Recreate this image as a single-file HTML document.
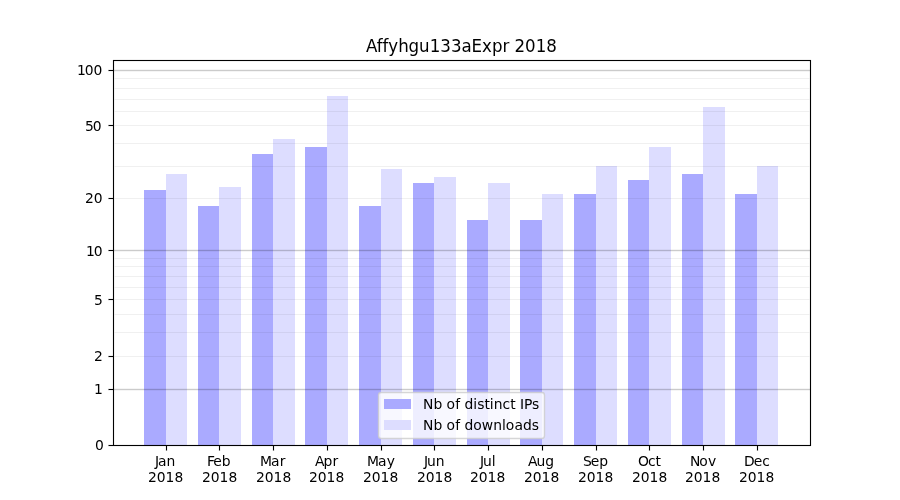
<!DOCTYPE html>
<html lang="en"><head><meta charset="utf-8"><title>Affyhgu133aExpr 2018</title>
<style>html,body{margin:0;padding:0;background:#fff}body{width:900px;height:500px;overflow:hidden}svg{display:block}text{font-family:"DejaVu Sans","Liberation Sans",sans-serif;fill:#000;white-space:pre}.t{font-size:13.8889px}.ti{font-size:16.6667px}</style></head><body>
<svg width="900" height="500" viewBox="0 0 900 500">
<rect width="900" height="500" fill="#fff"/>
<g shape-rendering="crispEdges">
<rect x="144" y="190" width="22" height="256" fill="#aaaaff"/>
<rect x="166" y="174" width="21" height="272" fill="#ddddff"/>
<rect x="198" y="206" width="21" height="240" fill="#aaaaff"/>
<rect x="219" y="187" width="22" height="259" fill="#ddddff"/>
<rect x="252" y="154" width="21" height="292" fill="#aaaaff"/>
<rect x="273" y="139" width="22" height="307" fill="#ddddff"/>
<rect x="305" y="147" width="22" height="299" fill="#aaaaff"/>
<rect x="327" y="96" width="21" height="350" fill="#ddddff"/>
<rect x="359" y="206" width="22" height="240" fill="#aaaaff"/>
<rect x="381" y="169" width="21" height="277" fill="#ddddff"/>
<rect x="413" y="183" width="21" height="263" fill="#aaaaff"/>
<rect x="434" y="177" width="22" height="269" fill="#ddddff"/>
<rect x="467" y="220" width="21" height="226" fill="#aaaaff"/>
<rect x="488" y="183" width="22" height="263" fill="#ddddff"/>
<rect x="520" y="220" width="22" height="226" fill="#aaaaff"/>
<rect x="542" y="194" width="21" height="252" fill="#ddddff"/>
<rect x="574" y="194" width="22" height="252" fill="#aaaaff"/>
<rect x="596" y="166" width="21" height="280" fill="#ddddff"/>
<rect x="628" y="180" width="21" height="266" fill="#aaaaff"/>
<rect x="649" y="147" width="22" height="299" fill="#ddddff"/>
<rect x="682" y="174" width="21" height="272" fill="#aaaaff"/>
<rect x="703" y="107" width="22" height="339" fill="#ddddff"/>
<rect x="735" y="194" width="22" height="252" fill="#aaaaff"/>
<rect x="757" y="166" width="21" height="280" fill="#ddddff"/>
<g fill="#000">
<rect x="114" y="388" width="696" height="3" fill-opacity="0.039"/><rect x="114" y="389" width="696" height="1" fill-opacity="0.168"/>
<rect x="114" y="249" width="696" height="3" fill-opacity="0.039"/><rect x="114" y="250" width="696" height="1" fill-opacity="0.168"/>
<rect x="114" y="69" width="696" height="3" fill-opacity="0.039"/><rect x="114" y="70" width="696" height="1" fill-opacity="0.168"/>
<rect x="115" y="356" width="694" height="1" fill-opacity="0.036"/><rect x="114" y="356" width="696" height="1" fill-opacity="0.024"/>
<rect x="115" y="332" width="694" height="1" fill-opacity="0.036"/><rect x="114" y="332" width="696" height="1" fill-opacity="0.024"/>
<rect x="115" y="314" width="694" height="1" fill-opacity="0.036"/><rect x="114" y="314" width="696" height="1" fill-opacity="0.024"/>
<rect x="115" y="299" width="694" height="1" fill-opacity="0.036"/><rect x="114" y="299" width="696" height="1" fill-opacity="0.024"/>
<rect x="115" y="287" width="694" height="1" fill-opacity="0.036"/><rect x="114" y="287" width="696" height="1" fill-opacity="0.024"/>
<rect x="115" y="276" width="694" height="1" fill-opacity="0.036"/><rect x="114" y="276" width="696" height="1" fill-opacity="0.024"/>
<rect x="115" y="266" width="694" height="1" fill-opacity="0.036"/><rect x="114" y="266" width="696" height="1" fill-opacity="0.024"/>
<rect x="115" y="258" width="694" height="1" fill-opacity="0.036"/><rect x="114" y="258" width="696" height="1" fill-opacity="0.024"/>
<rect x="115" y="198" width="694" height="1" fill-opacity="0.036"/><rect x="114" y="198" width="696" height="1" fill-opacity="0.024"/>
<rect x="115" y="166" width="694" height="1" fill-opacity="0.036"/><rect x="114" y="166" width="696" height="1" fill-opacity="0.024"/>
<rect x="115" y="143" width="694" height="1" fill-opacity="0.036"/><rect x="114" y="143" width="696" height="1" fill-opacity="0.024"/>
<rect x="115" y="125" width="694" height="1" fill-opacity="0.036"/><rect x="114" y="125" width="696" height="1" fill-opacity="0.024"/>
<rect x="115" y="111" width="694" height="1" fill-opacity="0.036"/><rect x="114" y="111" width="696" height="1" fill-opacity="0.024"/>
<rect x="115" y="99" width="694" height="1" fill-opacity="0.036"/><rect x="114" y="99" width="696" height="1" fill-opacity="0.024"/>
<rect x="115" y="88" width="694" height="1" fill-opacity="0.036"/><rect x="114" y="88" width="696" height="1" fill-opacity="0.024"/>
<rect x="115" y="78" width="694" height="1" fill-opacity="0.036"/><rect x="114" y="78" width="696" height="1" fill-opacity="0.024"/>
<rect x="108" y="444" width="5" height="3" fill-opacity="0.055"/><rect x="109" y="445" width="4" height="1"/><rect x="108" y="445" width="1" height="1" fill-opacity="0.47"/>
<rect x="108" y="388" width="5" height="3" fill-opacity="0.055"/><rect x="109" y="389" width="4" height="1"/><rect x="108" y="389" width="1" height="1" fill-opacity="0.47"/>
<rect x="108" y="355" width="5" height="3" fill-opacity="0.055"/><rect x="109" y="356" width="4" height="1"/><rect x="108" y="356" width="1" height="1" fill-opacity="0.47"/>
<rect x="108" y="298" width="5" height="3" fill-opacity="0.055"/><rect x="109" y="299" width="4" height="1"/><rect x="108" y="299" width="1" height="1" fill-opacity="0.47"/>
<rect x="108" y="249" width="5" height="3" fill-opacity="0.055"/><rect x="109" y="250" width="4" height="1"/><rect x="108" y="250" width="1" height="1" fill-opacity="0.47"/>
<rect x="108" y="197" width="5" height="3" fill-opacity="0.055"/><rect x="109" y="198" width="4" height="1"/><rect x="108" y="198" width="1" height="1" fill-opacity="0.47"/>
<rect x="108" y="124" width="5" height="3" fill-opacity="0.055"/><rect x="109" y="125" width="4" height="1"/><rect x="108" y="125" width="1" height="1" fill-opacity="0.47"/>
<rect x="108" y="69" width="5" height="3" fill-opacity="0.055"/><rect x="109" y="70" width="4" height="1"/><rect x="108" y="70" width="1" height="1" fill-opacity="0.47"/>
<rect x="165" y="446" width="3" height="5" fill-opacity="0.055"/><rect x="166" y="446" width="1" height="4"/><rect x="166" y="450" width="1" height="1" fill-opacity="0.47"/>
<rect x="218" y="446" width="3" height="5" fill-opacity="0.055"/><rect x="219" y="446" width="1" height="4"/><rect x="219" y="450" width="1" height="1" fill-opacity="0.47"/>
<rect x="272" y="446" width="3" height="5" fill-opacity="0.055"/><rect x="273" y="446" width="1" height="4"/><rect x="273" y="450" width="1" height="1" fill-opacity="0.47"/>
<rect x="326" y="446" width="3" height="5" fill-opacity="0.055"/><rect x="327" y="446" width="1" height="4"/><rect x="327" y="450" width="1" height="1" fill-opacity="0.47"/>
<rect x="380" y="446" width="3" height="5" fill-opacity="0.055"/><rect x="381" y="446" width="1" height="4"/><rect x="381" y="450" width="1" height="1" fill-opacity="0.47"/>
<rect x="433" y="446" width="3" height="5" fill-opacity="0.055"/><rect x="434" y="446" width="1" height="4"/><rect x="434" y="450" width="1" height="1" fill-opacity="0.47"/>
<rect x="487" y="446" width="3" height="5" fill-opacity="0.055"/><rect x="488" y="446" width="1" height="4"/><rect x="488" y="450" width="1" height="1" fill-opacity="0.47"/>
<rect x="541" y="446" width="3" height="5" fill-opacity="0.055"/><rect x="542" y="446" width="1" height="4"/><rect x="542" y="450" width="1" height="1" fill-opacity="0.47"/>
<rect x="595" y="446" width="3" height="5" fill-opacity="0.055"/><rect x="596" y="446" width="1" height="4"/><rect x="596" y="450" width="1" height="1" fill-opacity="0.47"/>
<rect x="648" y="446" width="3" height="5" fill-opacity="0.055"/><rect x="649" y="446" width="1" height="4"/><rect x="649" y="450" width="1" height="1" fill-opacity="0.47"/>
<rect x="702" y="446" width="3" height="5" fill-opacity="0.055"/><rect x="703" y="446" width="1" height="4"/><rect x="703" y="450" width="1" height="1" fill-opacity="0.47"/>
<rect x="756" y="446" width="3" height="5" fill-opacity="0.055"/><rect x="757" y="446" width="1" height="4"/><rect x="757" y="450" width="1" height="1" fill-opacity="0.47"/>
<rect x="112" y="60" width="3" height="386" fill-opacity="0.055"/><rect x="809" y="60" width="3" height="386" fill-opacity="0.055"/><rect x="113" y="59" width="698" height="3" fill-opacity="0.055"/><rect x="113" y="444" width="698" height="3" fill-opacity="0.055"/><rect x="113" y="60" width="1" height="386"/><rect x="810" y="60" width="1" height="386"/><rect x="113" y="60" width="698" height="1"/><rect x="113" y="445" width="698" height="1"/>
</g></g>
<rect x="378.5" y="392.5" width="166" height="46" rx="2.78" ry="2.78" fill="#fff" fill-opacity="0.8" stroke="#ccc" stroke-opacity="0.8" stroke-width="1.389"/>
<g shape-rendering="crispEdges"><rect x="384" y="399" width="27" height="10" fill="#aaaaff"/><rect x="384" y="420" width="27" height="10" fill="#ddddff"/></g>
<g class="t">
<text x="94.972" y="450">0</text>
<text x="93.972" y="394">1</text>
<text x="93.972" y="361">2</text>
<text x="93.972" y="305">5</text>
<text x="85.894 93.831" y="256">10</text>
<text x="85.019 93.831" y="203">20</text>
<text x="85.019 92.831" y="131">50</text>
<text x="76.941 84.753 93.581" y="75">100</text>
<text x="155.005 158.083 166.598" y="466">Jan</text>
<text x="148.044 156.856 165.559 174.512" y="482">2018</text>
<text x="207.026 213.37 221.776" y="466">Feb</text>
<text x="201.909 210.721 219.424 228.378" y="482">2018</text>
<text x="260.076 271.045 279.795" y="466">Mar</text>
<text x="255.889 264.701 273.404 282.483" y="482">2018</text>
<text x="314.902 323.512 332.574" y="466">Apr</text>
<text x="309.004 317.816 326.519 335.598" y="482">2018</text>
<text x="366.931 378.025 386.775" y="466">May</text>
<text x="362.994 371.806 380.509 389.462" y="482">2018</text>
<text x="423.911 427.114 435.786" y="466">Jun</text>
<text x="416.974 425.661 434.489 443.443" y="482">2018</text>
<text x="479.995 483.073 491.87" y="466">Jul</text>
<text x="470.089 478.776 487.604 496.557" y="482">2018</text>
<text x="528.053 536.537 545.334" y="466">Aug</text>
<text x="524.069 532.756 541.584 550.537" y="482">2018</text>
<text x="582.887 590.809 599.356" y="466">Sep</text>
<text x="577.934 586.746 595.574 604.403" y="482">2018</text>
<text x="637.955 648.111 655.502" y="466">Oct</text>
<text x="631.924 640.736 649.439 658.393" y="482">2018</text>
<text x="689.888 699.263 708.122" y="466">Nov</text>
<text x="685.029 693.841 702.544 711.622" y="482">2018</text>
<text x="743.995 753.792 762.339" y="466">Dec</text>
<text x="739.019 747.831 756.534 765.612" y="482">2018</text>
<text x="422.945 433.445 441.742 446.414 455.148 459.539 464.445 473.133 477.226 484.461 489.648 493.633 502.429 510.179 514.992 519.898 523.992 531.992" y="409">Nb of distinct IPs</text>
<text x="422.945 433.445 441.742 446.414 455.148 459.539 464.445 473.133 481.742 493.211 501.883 505.742 514.476 522.976 531.664" y="430">Nb of downloads</text>
</g>
<text class="ti" transform="translate(0,52) scale(1,1.100)" x="365.928 376.759 382.594 388.319 398.248 408.513 419.029 429.794 440.34 450.9 461.445 471.604 482.075 491.894 502.424 509.232 514.512 525.057 535.727 546.162" y="0">Affyhgu133aExpr 2018</text>
</svg></body></html>
